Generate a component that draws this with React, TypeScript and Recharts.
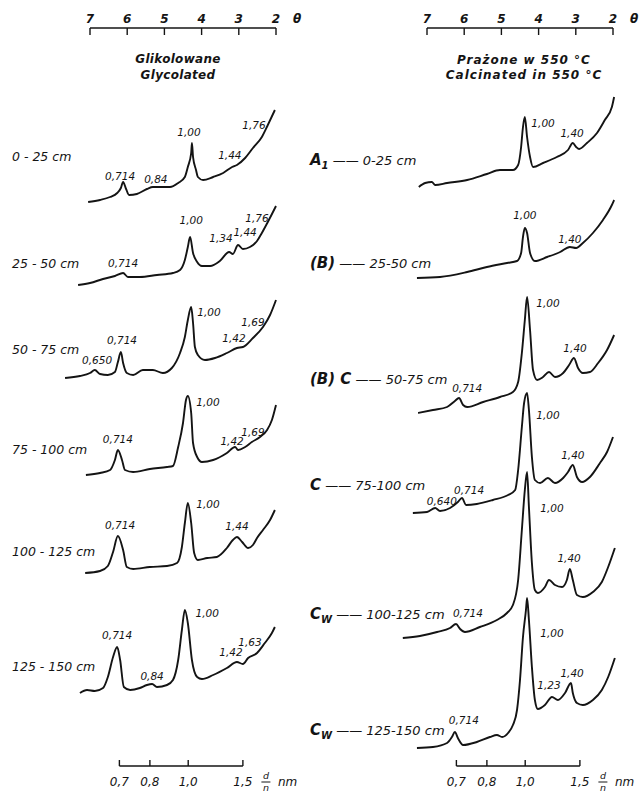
import React from 'react'
import { ComposedChart, Line, XAxis, YAxis, ReferenceLine, ReferenceDot } from 'recharts'

type Pt = [number, number] // [θ in degrees, intensity above the trace's own baseline]
type Peak = [number, number, number, string] // [trace, θ, height of the tag, d/n]

// axes
const thetaTicks = [7, 6, 5, 4, 3, 2]
const dTicks = [6.21, 5.39, 4.36, 2.89] // where d/n falls on the θ scale
const dLabels = ['0,7', '0,8', '1,0', '1,5']

// glikolowane / glycolated
const glyc0_25: Pt[] = [[7.05, -2], [6.73, 0], [6.46, 3], [6.27, 7], [6.17, 12], [6.11, 18], [6.03, 11], [5.95, 5], [5.74, 6], [5.47, 11], [5.31, 13], [5.12, 13], [4.85, 13], [4.63, 17], [4.45, 23], [4.37, 33], [4.28, 47], [4.26, 57], [4.23, 43], [4.15, 30], [4.10, 23], [3.96, 20], [3.69, 23], [3.42, 27], [3.18, 33], [3.05, 35], [2.83, 42], [2.62, 52], [2.38, 63], [2.22, 75], [2.03, 90]]
const glyc25_50: Pt[] = [[7.32, 0], [7.00, 2], [6.65, 6], [6.33, 9], [6.11, 12], [5.98, 8], [5.66, 8], [5.20, 10], [4.77, 12], [4.58, 15], [4.45, 25], [4.37, 38], [4.31, 48], [4.23, 32], [4.12, 23], [3.99, 19], [3.77, 19], [3.51, 24], [3.26, 33], [3.16, 31], [3.02, 40], [2.89, 36], [2.70, 38], [2.51, 44], [2.38, 52], [2.22, 63], [2.00, 79]]
const glyc50_75: Pt[] = [[7.67, 0], [7.27, 2], [7.00, 5], [6.87, 8], [6.73, 4], [6.52, 3], [6.33, 6], [6.25, 16], [6.17, 26], [6.11, 15], [6.01, 5], [5.84, 3], [5.58, 8], [5.31, 8], [5.04, 5], [4.80, 10], [4.58, 25], [4.45, 41], [4.37, 58], [4.28, 71], [4.23, 55], [4.18, 31], [4.10, 23], [3.91, 18], [3.64, 20], [3.32, 25], [3.05, 30], [2.89, 31], [2.62, 40], [2.35, 51], [2.16, 63], [2.00, 78]]
const glyc75_100: Pt[] = [[7.11, 0], [6.73, 2], [6.46, 5], [6.33, 15], [6.25, 25], [6.14, 15], [6.06, 5], [5.84, 3], [5.39, 6], [4.93, 8], [4.77, 9], [4.63, 28], [4.50, 52], [4.42, 75], [4.37, 79], [4.28, 62], [4.23, 32], [4.12, 18], [3.99, 13], [3.69, 15], [3.32, 22], [3.10, 28], [3.02, 25], [2.83, 28], [2.65, 33], [2.43, 38], [2.24, 45], [2.11, 55], [2.00, 70]]
const glyc100_125: Pt[] = [[7.13, 0], [6.73, 2], [6.52, 7], [6.38, 21], [6.25, 37], [6.11, 23], [6.01, 6], [5.84, 4], [5.39, 6], [4.93, 7], [4.66, 10], [4.53, 26], [4.45, 50], [4.37, 70], [4.28, 50], [4.20, 20], [4.10, 13], [3.85, 15], [3.59, 16], [3.32, 25], [3.16, 33], [3.05, 36], [2.91, 31], [2.75, 25], [2.62, 28], [2.51, 35], [2.35, 43], [2.16, 53], [2.03, 63]]
const glyc125_150: Pt[] = [[7.27, 0], [7.08, 3], [6.87, 2], [6.65, 5], [6.52, 16], [6.38, 36], [6.27, 46], [6.19, 33], [6.09, 6], [5.92, 3], [5.66, 5], [5.47, 8], [5.33, 9], [5.20, 6], [4.93, 8], [4.77, 13], [4.63, 33], [4.53, 63], [4.45, 83], [4.37, 70], [4.26, 33], [4.12, 16], [3.99, 14], [3.69, 18], [3.32, 25], [3.05, 31], [2.89, 29], [2.75, 35], [2.51, 40], [2.30, 50], [2.11, 60], [2.03, 66]]

const glycDepths = ['0 - 25 cm', '25 - 50 cm', '50 - 75 cm', '75 - 100 cm', '100 - 125 cm', '125 - 150 cm']
const glycPeaks: Peak[] = [
  [0, 6.19, 24, '0,714'], [0, 5.23, 21, '0,84'], [0, 4.34, 68, '1,00'], [0, 3.24, 45, '1,44'], [0, 2.59, 75, '1,76'],
  [1, 6.11, 22, '0,714'], [1, 4.28, 65, '1,00'], [1, 3.48, 47, '1,34'], [1, 2.83, 53, '1,44'], [1, 2.51, 67, '1,76'],
  [2, 6.81, 18, '0,650'], [2, 6.14, 38, '0,714'], [2, 3.80, 66, '1,00'], [2, 3.13, 40, '1,42'], [2, 2.62, 56, '1,69'],
  [3, 6.25, 36, '0,714'], [3, 3.83, 73, '1,00'], [3, 3.18, 34, '1,42'], [3, 2.62, 43, '1,69'],
  [4, 6.19, 48, '0,714'], [4, 3.83, 69, '1,00'], [4, 3.05, 47, '1,44'],
  [5, 6.27, 58, '0,714'], [5, 5.33, 17, '0,84'], [5, 3.85, 80, '1,00'], [5, 3.21, 41, '1,42'], [5, 2.70, 51, '1,63'],
]

// prażone w 550 °C / calcinated
const calc0_25: Pt[] = [[7.22, 0], [7.05, 4], [6.87, 5], [6.78, 2], [6.46, 4], [5.92, 7], [5.39, 13], [5.04, 17], [4.69, 17], [4.55, 22], [4.47, 40], [4.42, 60], [4.37, 70], [4.31, 50], [4.23, 30], [4.15, 20], [3.88, 24], [3.51, 30], [3.21, 37], [3.08, 44], [2.99, 40], [2.91, 38], [2.70, 44], [2.43, 54], [2.22, 67], [2.03, 80], [1.97, 90]]
const calc25_50: Pt[] = [[7.27, 0], [6.65, 1], [5.92, 6], [5.39, 11], [4.85, 15], [4.58, 17], [4.47, 25], [4.42, 41], [4.37, 50], [4.31, 45], [4.23, 25], [4.10, 17], [3.77, 21], [3.42, 26], [3.16, 31], [2.99, 30], [2.81, 35], [2.54, 45], [2.27, 58], [2.03, 73], [1.97, 78]]
const calc50_75: Pt[] = [[7.24, 0], [6.84, 3], [6.46, 6], [6.25, 12], [6.14, 15], [6.03, 8], [5.92, 6], [5.49, 11], [5.04, 16], [4.69, 21], [4.55, 31], [4.45, 60], [4.37, 93], [4.31, 116], [4.23, 83], [4.15, 43], [4.04, 33], [3.88, 36], [3.72, 41], [3.56, 36], [3.34, 40], [3.18, 48], [3.05, 55], [2.94, 45], [2.81, 40], [2.62, 41], [2.40, 50], [2.16, 63], [1.97, 78]]
const calc75_100: Pt[] = [[7.38, 0], [7.00, 1], [6.78, 5], [6.65, 2], [6.38, 5], [6.17, 11], [6.06, 15], [5.95, 8], [5.66, 9], [5.23, 13], [4.82, 18], [4.63, 23], [4.55, 43], [4.45, 86], [4.39, 110], [4.31, 120], [4.26, 103], [4.18, 56], [4.10, 33], [3.96, 30], [3.75, 35], [3.56, 30], [3.34, 35], [3.21, 41], [3.08, 48], [2.97, 36], [2.83, 31], [2.62, 36], [2.35, 50], [2.16, 61], [2.00, 76]]
const calc100_125: Pt[] = [[7.65, 0], [7.19, 2], [6.73, 6], [6.38, 10], [6.22, 14], [6.11, 9], [5.98, 6], [5.58, 11], [5.12, 18], [4.85, 25], [4.69, 33], [4.55, 58], [4.45, 108], [4.37, 148], [4.31, 166], [4.26, 131], [4.18, 75], [4.10, 48], [4.02, 45], [3.83, 51], [3.72, 58], [3.56, 53], [3.37, 51], [3.24, 58], [3.16, 69], [3.08, 58], [2.97, 43], [2.81, 41], [2.54, 46], [2.30, 56], [2.13, 71], [1.95, 90]]
const calc125_150: Pt[] = [[7.27, 0], [6.84, 1], [6.46, 5], [6.33, 11], [6.25, 16], [6.17, 10], [6.03, 3], [5.66, 6], [5.31, 11], [5.12, 13], [4.98, 11], [4.82, 15], [4.69, 23], [4.58, 38], [4.50, 68], [4.42, 111], [4.34, 138], [4.31, 150], [4.26, 128], [4.18, 81], [4.10, 48], [4.02, 39], [3.83, 43], [3.64, 51], [3.48, 48], [3.29, 55], [3.13, 65], [3.08, 55], [2.97, 45], [2.81, 43], [2.54, 48], [2.30, 58], [2.13, 71], [1.95, 90]]

const calcHorizons = ['A', '(B)', '(B) C', 'C', 'C', 'C']
const calcSubs = ['1', '', '', '', 'W', 'W']
const calcDepths = ['0-25 cm', '25-50 cm', '50-75 cm', '75-100 cm', '100-125 cm', '125-150 cm']
const calcPeaks: Peak[] = [
  [0, 3.88, 64, '1,00'], [0, 3.10, 54, '1,40'],
  [1, 4.37, 63, '1,00'], [1, 3.16, 39, '1,40'],
  [2, 5.92, 25, '0,714'], [2, 3.75, 110, '1,00'], [2, 3.02, 65, '1,40'],
  [3, 6.60, 12, '0,640'], [3, 5.87, 23, '0,714'], [3, 3.75, 98, '1,00'], [3, 3.08, 58, '1,40'],
  [4, 5.90, 25, '0,714'], [4, 3.64, 130, '1,00'], [4, 3.18, 80, '1,40'],
  [5, 6.01, 28, '0,714'], [5, 3.64, 115, '1,00'], [5, 3.72, 63, '1,23'], [5, 3.10, 75, '1,40'],
]

// stacking (vertical shift of every trace) and the height of its row caption
const Y_MAX = 738
const glycLift = [566, 481, 388, 291, 193, 73]
const glycTagLift = [43, 21, 28, 25, 21, 26]
const calcLift = [579, 488, 353, 253, 128, 18]
const calcTagLift = [27, 15, 34, 28, 24, 18]

const ink = '#141414'
const font = '"DejaVu Sans", Verdana, sans-serif'

function ThetaTick({ x, y, payload }: any) {
  const last = payload.value === thetaTicks[thetaTicks.length - 1]
  return (
    <g>
      <line x1={x} x2={x} y1={y} y2={y + 7} stroke={ink} strokeWidth={1.4} />
      <text x={x} y={y - 5} textAnchor="middle" fontSize={12} fontStyle="italic" fontWeight="bold" fill={ink} fontFamily={font}>{payload.value}</text>
      {last && <text x={x + 21} y={y - 5} textAnchor="middle" fontSize={12} fontStyle="italic" fontWeight="bold" fill={ink} fontFamily={font}>θ</text>}
    </g>
  )
}

function DTick({ x, y, payload }: any) {
  const k = dTicks.indexOf(payload.value)
  const txt = { fontStyle: 'italic', fill: ink, fontFamily: font } as any
  return (
    <g>
      <line x1={x} x2={x} y1={y} y2={y - 6} stroke={ink} strokeWidth={1.4} />
      <text x={x} y={y + 20} textAnchor="middle" fontSize={12} {...txt}>{dLabels[k]}</text>
      {k === dTicks.length - 1 && (
        <g>
          <text x={x + 23} y={y + 13} textAnchor="middle" fontSize={9.5} {...txt}>d</text>
          <line x1={x + 18.5} x2={x + 27.5} y1={y + 16} y2={y + 16} stroke={ink} strokeWidth={1} />
          <text x={x + 23} y={y + 25} textAnchor="middle" fontSize={9.5} {...txt}>n</text>
          <text x={x + 35} y={y + 20} fontSize={12} {...txt}>nm</text>
        </g>
      )}
    </g>
  )
}

const peakTag = (text: string) => (props: any) => {
  const { x, y } = props.viewBox
  return (
    <text x={x} y={y + 4} textAnchor="middle" fontSize={10.5} fontStyle="italic" fill={ink} fontFamily={font}>{text}</text>
  )
}

function Panel({ traces, peaks, lift, tagLift, renderTag, width, axisWidth, right }: any) {
  const rows = traces.map((tr: Pt[], k: number) => tr.map(([t, i]) => ({ t, v: i + lift[k] })))
  const tagTicks = lift.map((l: number, k: number) => l + tagLift[k])
  return (
    <ComposedChart width={width} height={793} margin={{ top: 0, right, bottom: 0, left: 0 }}>
      <XAxis xAxisId="t" orientation="top" type="number" dataKey="t" domain={[1.5, 8]} reversed allowDataOverflow
        height={28} ticks={thetaTicks} interval={0} tickSize={0} tickMargin={0} axisLine={false} tickLine={false} tick={ThetaTick} />
      <XAxis xAxisId="b" orientation="bottom" type="number" dataKey="t" domain={[1.5, 8]} reversed allowDataOverflow
        height={27} ticks={dTicks} interval={0} tickSize={0} tickMargin={0} axisLine={false} tickLine={false} tick={DTick} />
      <YAxis type="number" domain={[0, Y_MAX]} allowDataOverflow width={axisWidth} ticks={tagTicks} interval={0}
        axisLine={false} tickLine={false} tick={(p: any) => renderTag(p, tagTicks.indexOf(p.payload.value))} />
      <ReferenceLine xAxisId="t" segment={[{ x: 7, y: Y_MAX }, { x: 2, y: Y_MAX }]} stroke={ink} strokeWidth={1.4} />
      <ReferenceLine xAxisId="b" segment={[{ x: dTicks[0], y: 0 }, { x: dTicks[dTicks.length - 1], y: 0 }]} stroke={ink} strokeWidth={1.4} />
      {rows.map((d: any[], k: number) => (
        <Line key={k} xAxisId="t" data={d} dataKey="v" type="monotone" dot={false} activeDot={false}
          stroke={ink} strokeWidth={1.9} isAnimationActive={false} />
      ))}
      {peaks.map(([k, t, h, text]: Peak, i: number) => (
        <ReferenceDot key={i} xAxisId="t" x={t} y={lift[k] + h} r={0} fill="none" stroke="none" label={peakTag(text)} />
      ))}
    </ComposedChart>
  )
}

function glycTag(p: any, k: number) {
  return (
    <text x={12} y={p.y + 4} fontSize={12.5} fontStyle="italic" fill={ink} fontFamily={font}>{glycDepths[k]}</text>
  )
}

function calcTag(p: any, k: number) {
  return (
    <text x={10} y={p.y + 5} fontSize={13} fontStyle="italic" fill={ink} fontFamily={font}>
      <tspan fontSize={15} fontWeight="bold">{calcHorizons[k]}</tspan>
      {calcSubs[k] && <tspan fontSize={10} fontWeight="bold" dy={4}>{calcSubs[k]}</tspan>}
      <tspan dy={calcSubs[k] ? -4 : 0}>{' —— ' + calcDepths[k]}</tspan>
    </text>
  )
}

const title = { position: 'absolute', width: 220, textAlign: 'center', fontSize: 12, fontWeight: 'bold', fontStyle: 'italic', lineHeight: '16px', color: ink } as const

export default function App() {
  return (
    <div style={{ position: 'absolute', left: 0, top: 0, width: 644, height: 793, background: '#fff', fontFamily: font }}>
      <div style={{ position: 'absolute', left: 0, top: 0 }}>
        <Panel traces={[glyc0_25, glyc25_50, glyc50_75, glyc75_100, glyc100_125, glyc125_150]} peaks={glycPeaks}
          lift={glycLift} tagLift={glycTagLift} renderTag={glycTag} width={322} axisWidth={52.8} right={27.4} />
      </div>
      <div style={{ position: 'absolute', left: 300, top: 0 }}>
        <Panel traces={[calc0_25, calc25_50, calc50_75, calc75_100, calc100_125, calc125_150]} peaks={calcPeaks}
          lift={calcLift} tagLift={calcTagLift} renderTag={calcTag} width={344} axisWidth={89.8} right={12.4} />
      </div>
      <div style={{ ...title, left: 68, top: 51, letterSpacing: 0.3 }}>Glikolowane<br />Glycolated</div>
      <div style={{ ...title, left: 414, top: 53, lineHeight: '15px', letterSpacing: 1 }}>Prażone w 550 °C<br />Calcinated in 550 °C</div>
    </div>
  )
}
